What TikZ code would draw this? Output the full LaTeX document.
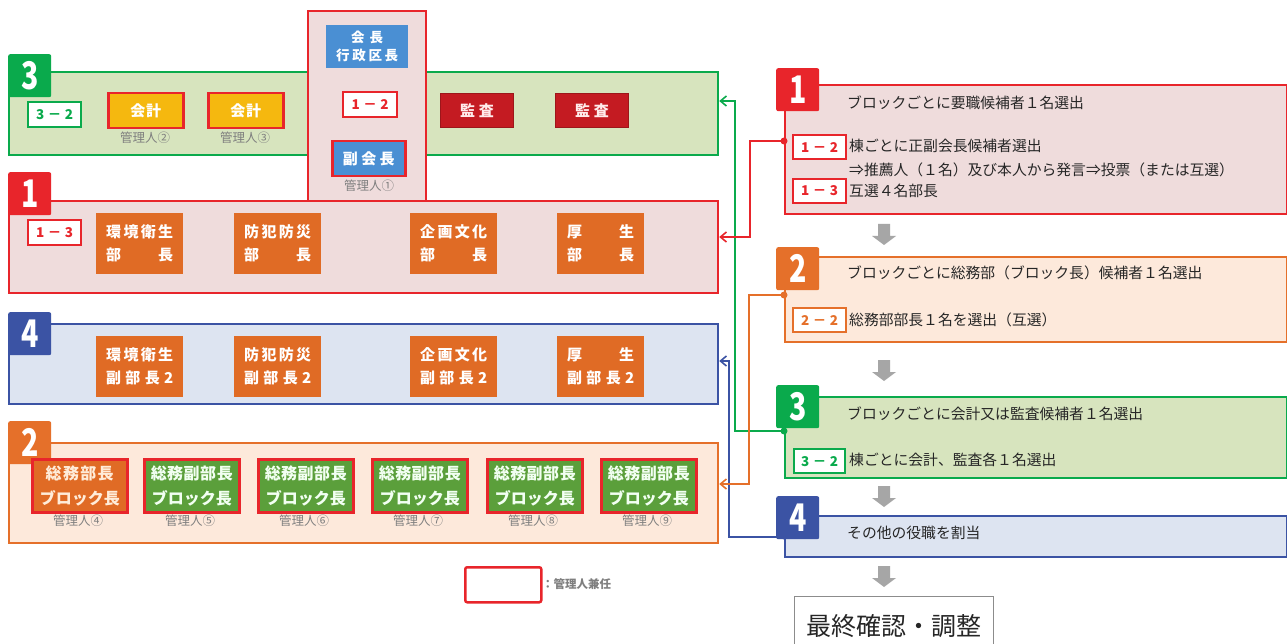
\documentclass[tikz,border=0pt]{standalone}
\usepackage{fontspec}
\setmainfont{Noto Sans CJK JP}
\usetikzlibrary{arrows.meta,calc}
\definecolor{cRed}{HTML}{E8252B}
\definecolor{cPink}{HTML}{EFDCDC}
\definecolor{cGreen}{HTML}{0AAA4C}
\definecolor{cGreenFill}{HTML}{D7E4BE}
\definecolor{cOrange}{HTML}{E5702A}
\definecolor{cPeach}{HTML}{FDE9DB}
\definecolor{cBlue}{HTML}{3B53A4}
\definecolor{cBlueFill}{HTML}{DDE4F1}
\definecolor{cBox}{HTML}{E06B25}
\definecolor{cYellow}{HTML}{F5B80F}
\definecolor{cKansa}{HTML}{C41B22}
\definecolor{cSky}{HTML}{4A8FD3}
\definecolor{cLeaf}{HTML}{5B9F3B}
\definecolor{cGrayArrow}{HTML}{A6A6A6}
\definecolor{cGrayText}{HTML}{7F7F7F}
\newcommand\jfs[2]{\fontsize{#1}{#2}\selectfont}
\newcommand\hf{\hfill\relax}
\tikzset{
  panel/.style={draw, line width=2.2pt, anchor=north west, inner sep=0pt, minimum width=709pt},
  rpanel/.style={draw, line width=2.2pt, anchor=north west, inner sep=0pt, minimum width=502pt},
  badge/.style={anchor=north west, minimum width=43pt, minimum height=43pt, inner sep=0pt, rounded corners=2pt, text=white, font=\bfseries\jfs{38}{38}},
  tag/.style={draw, fill=white, line width=2.2pt, anchor=north west, minimum width=53pt, minimum height=25pt, inner sep=0pt, font=\bfseries\jfs{13.5}{13.5}},
  rolebox/.style={fill=cBox, anchor=north west, minimum width=87pt, minimum height=61pt, inner sep=0pt, text=white, align=center, font=\bfseries\jfs{15}{23}},
  blockbox/.style={draw=cRed, line width=2.5pt, anchor=north west, minimum width=95pt, minimum height=53pt, inner sep=0pt, align=center, font=\bfseries\jfs{16}{25}},
  kanri/.style={text=cGrayText, font=\jfs{12.5}{12.5}, inner sep=0pt},
  rtext/.style={anchor=west, inner sep=0pt, text=black!85, font=\jfs{14.8}{15}},
  conn/.style={line width=2pt, -{Straight Barb[length=6pt,width=10pt,line width=1.6pt]}},
  dot/.style={circle, fill, inner sep=0pt, minimum size=7pt},
  downarrow/.pic={\fill[cGrayArrow] (-6,0) -- (6,0) -- (6,12) -- (12,12) -- (0,21) -- (-12,12) -- (-6,12) -- cycle;}
}
\begin{document}
\begin{tikzpicture}[x=1pt,y=-1pt]
\fill[white] (0,0) rectangle (1287,644);
\useasboundingbox (0,0) rectangle (1287,644);

% ---------- left panel ----------
\node[panel, draw=cGreen, fill=cGreenFill, minimum height=83pt] (s3) at (8,71) {};
\node[draw=cRed, fill=cPink, line width=2.2pt, anchor=north west, inner sep=0pt, minimum width=118pt, minimum height=190pt] (col) at (307,10) {};
\node[panel, draw=cRed, fill=cPink, minimum height=92pt] (s1) at (8,200) {};
\node[panel, draw=cBlue, fill=cBlueFill, minimum height=80pt] (s4) at (8,323) {};
\node[panel, draw=cOrange, fill=cPeach, minimum height=100pt] (s2) at (8,442) {};

\node[badge, fill=cGreen] (b3) at (8,54) {\scalebox{0.75}[1]{3}};
\node[badge, fill=cRed] (b1) at (8,172) {\scalebox{0.75}[1]{1}};
\node[badge, fill=cBlue] (b4) at (8,312) {\scalebox{0.75}[1]{4}};
\node[badge, fill=cOrange] (b2) at (8,421) {\scalebox{0.75}[1]{2}};

% section 3
\node[tag, draw=cGreen, text=cGreen] (t32) at (27,101) {\makebox[37pt]{3\hf －\hf 2}};
\node[draw=cRed, line width=2.5pt, fill=cYellow, anchor=north west, minimum width=75pt, minimum height=35pt, inner sep=0pt, text=white, font=\bfseries\jfs{15}{15}] (k1) at (107,92) {\makebox[31pt]{会\hf 計}};
\node[draw=cRed, line width=2.5pt, fill=cYellow, anchor=north west, minimum width=75pt, minimum height=35pt, inner sep=0pt, text=white, font=\bfseries\jfs{15}{15}] (k2) at (207,92) {\makebox[31pt]{会\hf 計}};
\node[kanri] (l2) at (145,138) {管理人②};
\node[kanri] (l3) at (245,138) {管理人③};
\node[draw=cKansa!80!black, line width=1pt, fill=cKansa, anchor=north west, minimum width=73pt, minimum height=34pt, inner sep=0pt, text=red!8, font=\bfseries\jfs{15}{15}] (m1) at (440,93) {\makebox[34pt]{監\hf 査}};
\node[draw=cKansa!80!black, line width=1pt, fill=cKansa, anchor=north west, minimum width=73pt, minimum height=34pt, inner sep=0pt, text=red!8, font=\bfseries\jfs{15}{15}] (m2) at (555,93) {\makebox[34pt]{監\hf 査}};

% center column
\node[fill=cSky, anchor=north west, minimum width=82pt, minimum height=43pt, inner sep=0pt, text=white, align=center, font=\bfseries\jfs{13.5}{18}] (ch) at (326,25) {\makebox[32pt]{会\hf 長}\\\makebox[62pt]{行\hf 政\hf 区\hf 長}};
\node[tag, draw=cRed, text=cRed, minimum width=54pt] (t12) at (342,91) {\makebox[37pt]{1\hf －\hf 2}};
\node[draw=cRed, line width=2.5pt, fill=cSky, anchor=north west, minimum width=73pt, minimum height=35pt, inner sep=0pt, text=white, font=\bfseries\jfs{15}{15}] (fk) at (331,140) {\makebox[52pt]{副\hf 会\hf 長}};
\node[kanri] (l1) at (369,186) {管理人①};

% section 1
\node[tag, draw=cRed, text=cRed] (t13) at (27,219) {\makebox[37pt]{1\hf －\hf 3}};
\node[rolebox] (e1) at (96,213) {\makebox[67pt]{環\hf 境\hf 衛\hf 生}\\\makebox[67pt]{部\hf 長}};
\node[rolebox] (e2) at (234,213) {\makebox[67pt]{防\hf 犯\hf 防\hf 災}\\\makebox[67pt]{部\hf 長}};
\node[rolebox] (e3) at (410,213) {\makebox[67pt]{企\hf 画\hf 文\hf 化}\\\makebox[67pt]{部\hf 長}};
\node[rolebox] (e4) at (557,213) {\makebox[67pt]{厚\hf 生}\\\makebox[67pt]{部\hf 長}};

% section 4
\node[rolebox] (f1) at (96,336) {\makebox[67pt]{環\hf 境\hf 衛\hf 生}\\\makebox[67pt]{副\hf 部\hf 長\hf 2}};
\node[rolebox] (f2) at (234,336) {\makebox[67pt]{防\hf 犯\hf 防\hf 災}\\\makebox[67pt]{副\hf 部\hf 長\hf 2}};
\node[rolebox] (f3) at (410,336) {\makebox[67pt]{企\hf 画\hf 文\hf 化}\\\makebox[67pt]{副\hf 部\hf 長\hf 2}};
\node[rolebox] (f4) at (557,336) {\makebox[67pt]{厚\hf 生}\\\makebox[67pt]{副\hf 部\hf 長\hf 2}};

% section 2
\node[blockbox, fill=cBox, text=orange!15] (g1) at (31,458) {\makebox[68pt]{総\hf 務\hf 部\hf 長}\\\makebox[78pt]{ブ\hf ロ\hf ッ\hf ク\hf 長}};
\node[blockbox, fill=cLeaf, text=green!5] (g2) at (143,458) {\makebox[82pt]{総\hf 務\hf 副\hf 部\hf 長}\\\makebox[80pt]{ブ\hf ロ\hf ッ\hf ク\hf 長}};
\node[blockbox, fill=cLeaf, text=green!5] (g3) at (257,458) {\makebox[82pt]{総\hf 務\hf 副\hf 部\hf 長}\\\makebox[80pt]{ブ\hf ロ\hf ッ\hf ク\hf 長}};
\node[blockbox, fill=cLeaf, text=green!5] (g4) at (371,458) {\makebox[82pt]{総\hf 務\hf 副\hf 部\hf 長}\\\makebox[80pt]{ブ\hf ロ\hf ッ\hf ク\hf 長}};
\node[blockbox, fill=cLeaf, text=green!5] (g5) at (486,458) {\makebox[82pt]{総\hf 務\hf 副\hf 部\hf 長}\\\makebox[80pt]{ブ\hf ロ\hf ッ\hf ク\hf 長}};
\node[blockbox, fill=cLeaf, text=green!5] (g6) at (600,458) {\makebox[82pt]{総\hf 務\hf 副\hf 部\hf 長}\\\makebox[80pt]{ブ\hf ロ\hf ッ\hf ク\hf 長}};
\node[kanri] (l4) at (78,521) {管理人④};
\node[kanri] (l5) at (190,521) {管理人⑤};
\node[kanri] (l6) at (304,521) {管理人⑥};
\node[kanri] (l7) at (418,521) {管理人⑦};
\node[kanri] (l8) at (533,521) {管理人⑧};
\node[kanri] (l9) at (647,521) {管理人⑨};

% legend
\node[draw=cRed, line width=2.5pt, rounded corners=2pt, anchor=north west, minimum width=76pt, minimum height=35pt, inner sep=0pt] (leg) at (464,566) {};
\node[anchor=west, inner sep=0pt, text=cGrayText, font=\bfseries\jfs{11.5}{11.5}] (legt) at (542,584) {：管理人兼任};

% ---------- right panel ----------
\node[rpanel, draw=cRed, fill=cPink, minimum height=129pt] (r1) at (784,84) {};
\node[rpanel, draw=cOrange, fill=cPeach, minimum height=85pt] (r2) at (784,256) {};
\node[rpanel, draw=cGreen, fill=cGreenFill, minimum height=81pt] (r3) at (784,396) {};
\node[rpanel, draw=cBlue, fill=cBlueFill, minimum height=41pt] (r4) at (784,515) {};

\node[badge, fill=cRed] (rb1) at (776,68) {\scalebox{0.75}[1]{1}};
\node[badge, fill=cOrange] (rb2) at (776,247) {\scalebox{0.75}[1]{2}};
\node[badge, fill=cGreen] (rb3) at (776,385) {\scalebox{0.75}[1]{3}};
\node[badge, fill=cBlue] (rb4) at (776,496) {\scalebox{0.75}[1]{4}};

\node[tag, draw=cRed, text=cRed, minimum height=24pt] (u12) at (792,134) {\makebox[37pt]{1\hf －\hf 2}};
\node[tag, draw=cRed, text=cRed, minimum height=24pt] (u13) at (792,178) {\makebox[37pt]{1\hf －\hf 3}};
\node[tag, draw=cOrange, text=cOrange, minimum height=24pt] (u22) at (792,307) {\makebox[37pt]{2\hf －\hf 2}};
\node[tag, draw=cGreen, text=cGreen, minimum width=51pt, minimum height=24pt] (u32) at (793,448) {\makebox[37pt]{3\hf －\hf 2}};

\node[rtext] (x1) at (847,103) {ブロックごとに要職候補者１名選出};
\node[rtext] (x2) at (849,146) {棟ごとに正副会長候補者選出};
\node[rtext] (x3) at (849,170) {⇒推薦人（１名）及び本人から発言⇒投票（または互選）};
\node[rtext] (x4) at (849,191) {互選４名部長};
\node[rtext] (x5) at (847,273) {ブロックごとに総務部（ブロック長）候補者１名選出};
\node[rtext] (x6) at (849,320) {総務部部長１名を選出（互選）};
\node[rtext] (x7) at (847,414) {ブロックごとに会計又は監査候補者１名選出};
\node[rtext] (x8) at (849,460) {棟ごとに会計、監査各１名選出};
\node[rtext] (x9) at (847,533) {その他の役職を割当};

\node[draw=black!45, line width=1pt, fill=white, anchor=north west, minimum width=199pt, minimum height=62pt, inner sep=0pt, font=\jfs{25}{25}, text=black!85] (fin) at (794,596) {\raisebox{5pt}{最終確認・調整}};

\pic at (884,224) {downarrow};
\pic at (884,360) {downarrow};
\pic at (884,486) {downarrow};
\pic at (884,566) {downarrow};

% ---------- connectors ----------
\coordinate (d1) at (784,141);
\coordinate (d2) at (784,295);
\coordinate (d3) at (784,431);
\coordinate (d4) at (784,537);
\coordinate (yR) at (0,237);
\coordinate (yO) at (0,484);
\coordinate (yG) at (0,101);
\coordinate (yB) at (0,361);
\draw[conn, cGreen] (d3) -- ++(-49,0) |- (s3.east |- yG);
\draw[conn, cBlue] (d4) -- ++(-55,0) |- (s4.east |- yB);
\draw[conn, cOrange] (d2) -- ++(-35,0) |- (s2.east |- yO);
\draw[conn, cRed] (d1) -- ++(-34,0) |- (s1.east |- yR);
\node[dot, cRed] at (d1) {};
\node[dot, cOrange] at (d2) {};
\node[dot, cGreen] at (d3) {};
\node[dot, cBlue, minimum size=5pt] at (d4) {};
\end{tikzpicture}
\end{document}
